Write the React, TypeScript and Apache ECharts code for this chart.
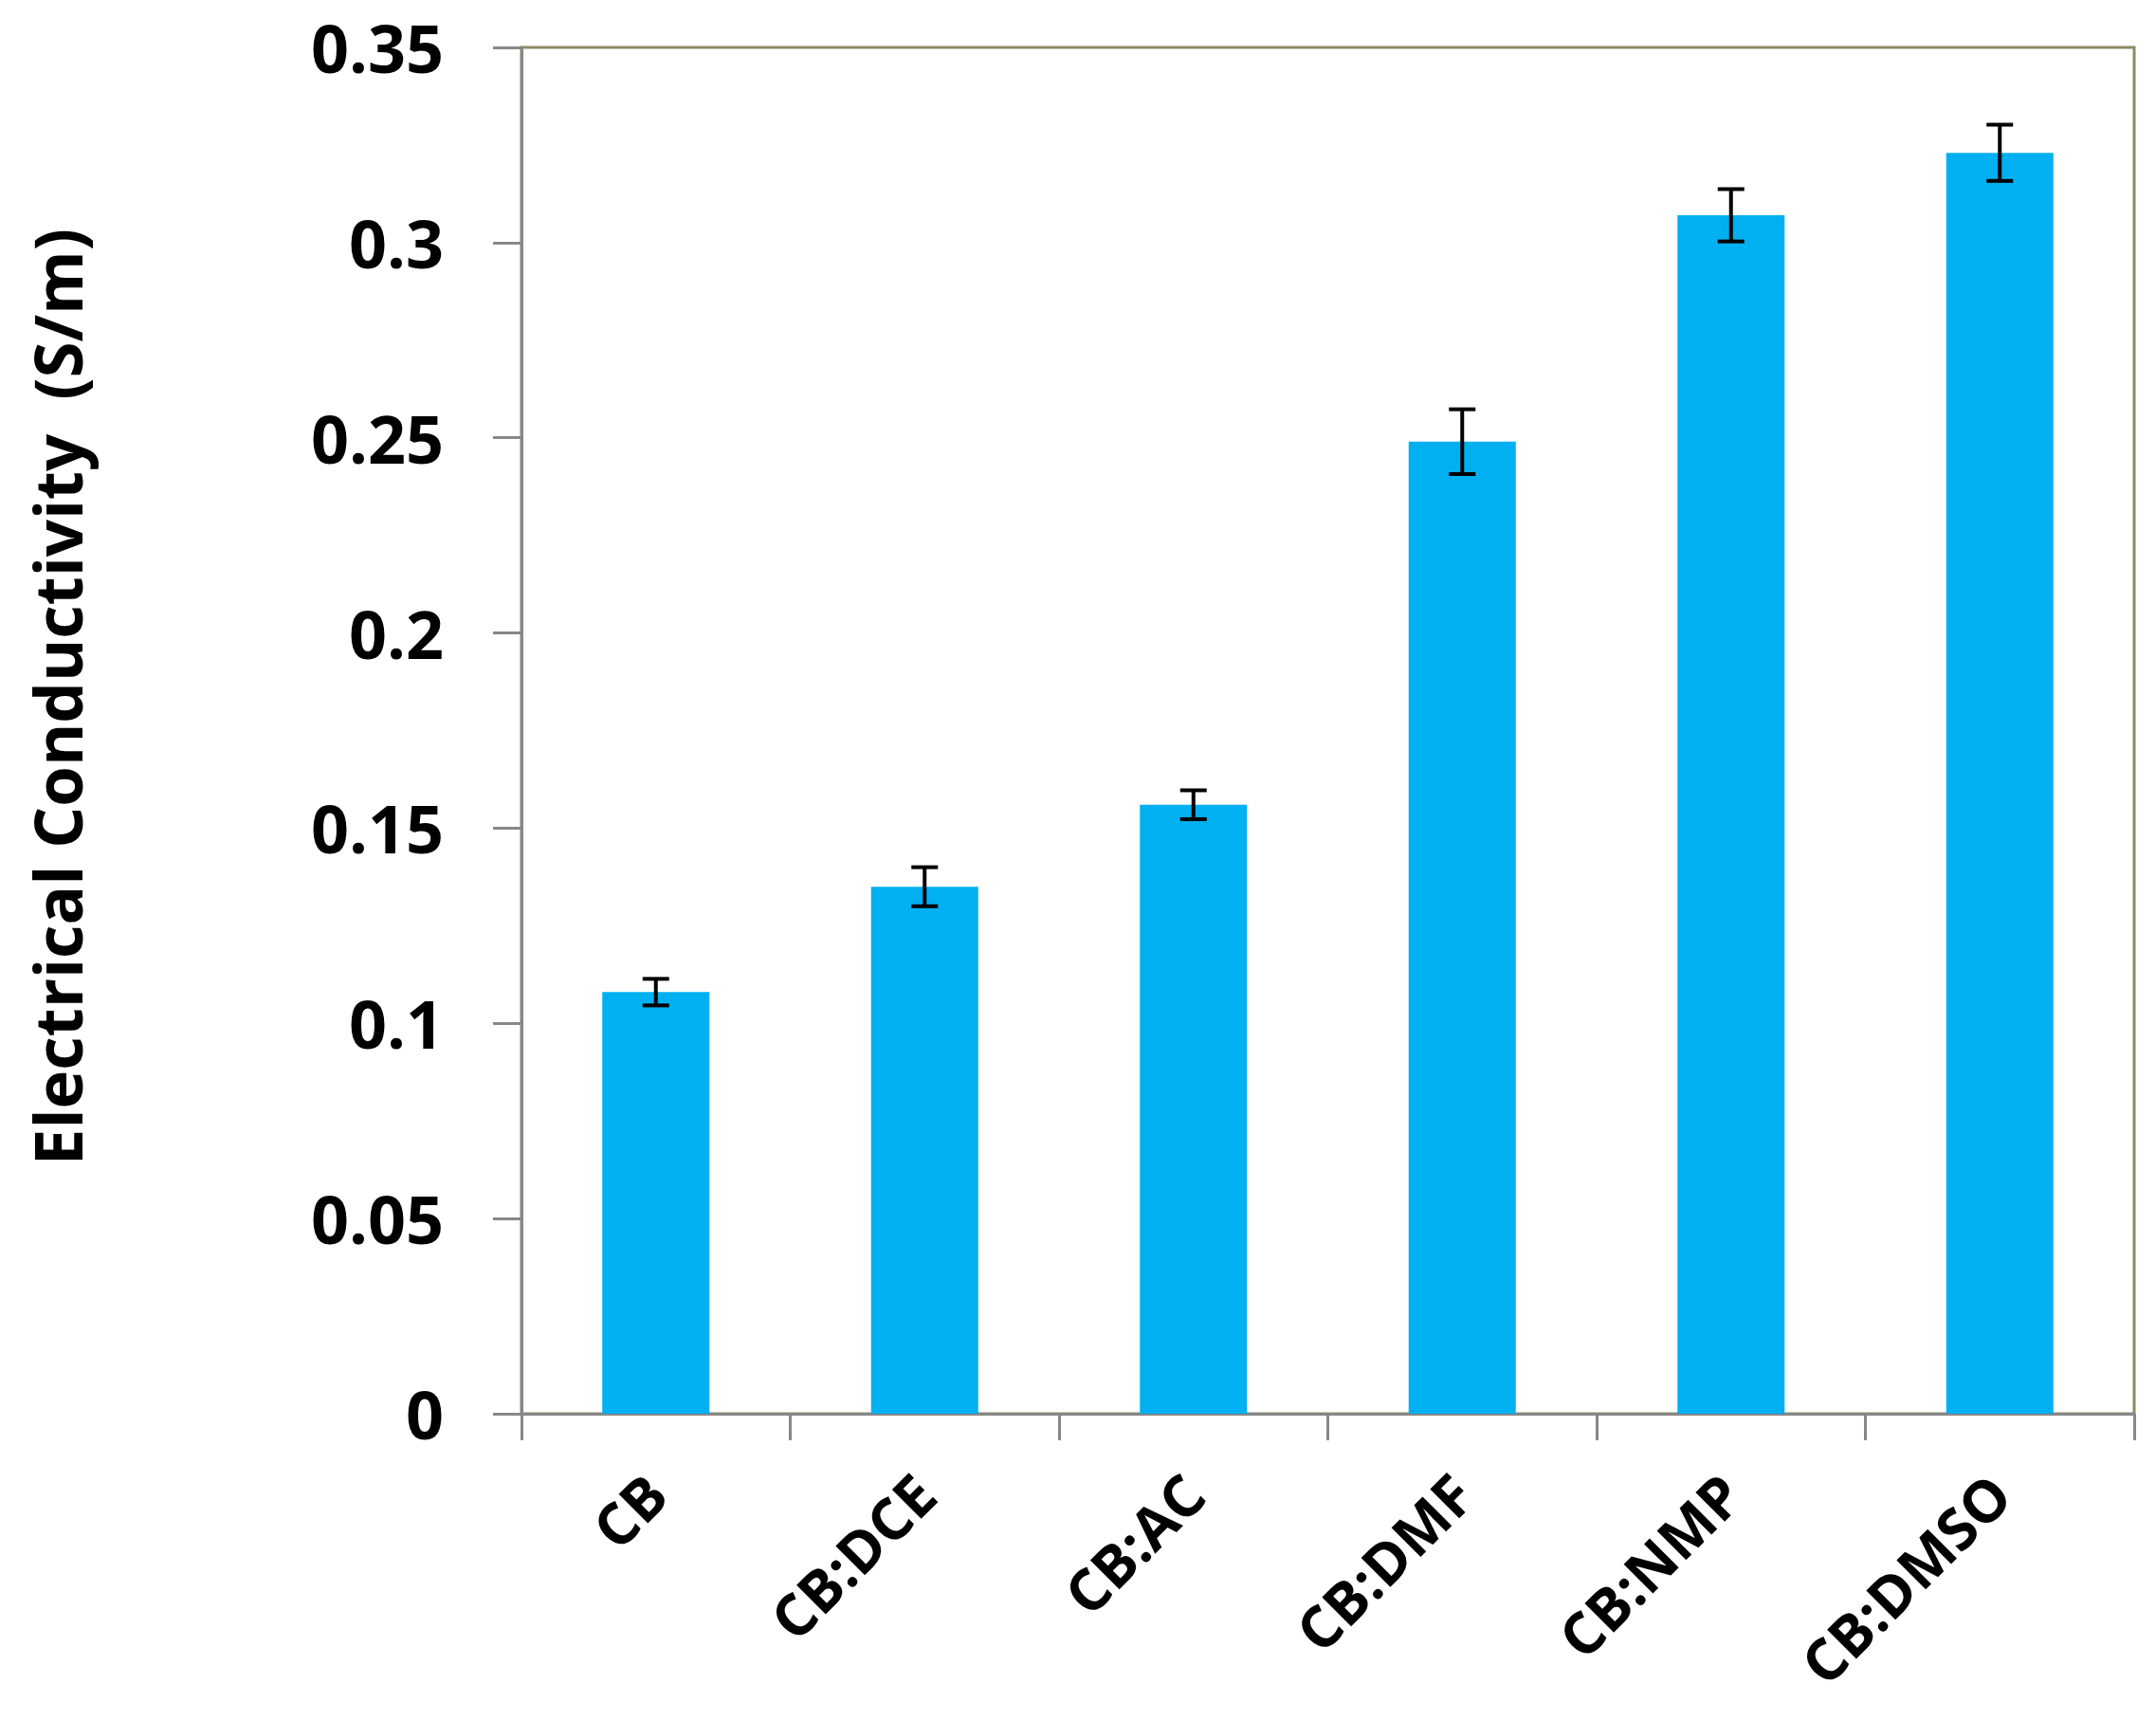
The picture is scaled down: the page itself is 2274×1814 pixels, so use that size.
import React, { useEffect, useRef } from "react";
import * as echarts from "echarts";

const categories = ["CB", "CB:DCE", "CB:AC", "CB:DMF", "CB:NMP", "CB:DMSO"];
const conductivity = [0.108, 0.135, 0.156, 0.249, 0.307, 0.323];
const errors = [0.0034, 0.005, 0.0037, 0.0083, 0.0067, 0.0072];
const yTitle = "Electrical Conductivity  (S/m)";

const FONT = "'Open Sans', 'Noto Sans', sans-serif";

export default function App() {
  const ref = useRef<HTMLDivElement>(null);
  useEffect(() => {
    if (!ref.current) return;
    const chart = echarts.init(ref.current, null, { renderer: "svg" });
    const errData = conductivity.map((v, i) => [i, v - errors[i], v + errors[i]]);
    chart.setOption({
      animation: false,
      backgroundColor: "#ffffff",
      grid: {
        left: 550,
        right: 23,
        top: 50,
        bottom: 323,
        show: true,
        borderColor: "#8e8a63",
        borderWidth: 3,
        backgroundColor: "transparent",
      },
      graphic: [
        {
          type: "text",
          x: 60,
          y: 735,
          rotation: Math.PI / 2,
          style: {
            text: yTitle,
            font: `bold 69px ${FONT}`,
            fill: "#000",
            align: "center",
            verticalAlign: "middle",
          },
        },
      ],
      xAxis: {
        type: "category",
        data: categories,
        axisLine: { show: true, lineStyle: { color: "#878787", width: 3 } },
        axisTick: { show: true, length: 28, lineStyle: { color: "#878787", width: 3 } },
        axisLabel: {
          rotate: 45,
          margin: 74,
          color: "#000",
          fontFamily: FONT,
          fontWeight: "bold",
          fontSize: 61,
        },
        splitLine: { show: false },
      },
      yAxis: {
        type: "value",
        min: 0,
        max: 0.35,
        interval: 0.05,
        axisLine: { show: true, lineStyle: { color: "#878787", width: 3 } },
        axisTick: { show: true, length: 30, lineStyle: { color: "#878787", width: 3 } },
        axisLabel: {
          margin: 82,
          color: "#000",
          fontFamily: FONT,
          fontWeight: "bold",
          fontSize: 70,
        },
        splitLine: { show: false },
      },
      series: [
        {
          type: "bar",
          data: conductivity,
          barWidth: 113,
          itemStyle: { color: "#00b0f0" },
        },
        {
          type: "custom",
          data: errData,
          z: 10,
          renderItem: (params: any, api: any) => {
            const x = api.value(0);
            const lo = api.coord([x, api.value(1)]);
            const hi = api.coord([x, api.value(2)]);
            const hw = 14;
            const style = { stroke: "#000", lineWidth: 4 };
            return {
              type: "group",
              children: [
                { type: "line", shape: { x1: lo[0], y1: lo[1], x2: hi[0], y2: hi[1] }, style },
                { type: "line", shape: { x1: lo[0] - hw, y1: lo[1], x2: lo[0] + hw, y2: lo[1] }, style },
                { type: "line", shape: { x1: hi[0] - hw, y1: hi[1], x2: hi[0] + hw, y2: hi[1] }, style },
              ],
            };
          },
        },
      ],
    });
    return () => chart.dispose();
  }, []);
  return (
    <div
      ref={ref}
      style={{ position: "fixed", left: 0, top: 0, width: 2274, height: 1814, background: "#fff" }}
    />
  );
}
